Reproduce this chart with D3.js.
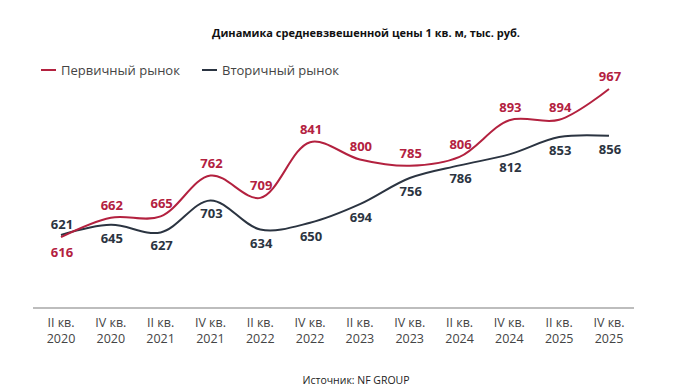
<!DOCTYPE html>
<html>
<head>
    <meta charset="utf-8">
    <title>Динамика средневзвешенной цены</title>
    <script src="https://d3js.org/d3.v7.min.js"></script>
    <style>
        body {
            margin: 0;
            padding: 0;
            background-color: #ffffff;
            font-family: "Open Sans", sans-serif;
        }
        .title {
            font-family: "Open Sans", sans-serif;
            font-weight: bold;
            font-size: 11px;
            fill: #111;
        }
        .legend text {
            font-size: 13px;
            fill: #444;
        }
        .tick-label {
            font-size: 12.5px;
            fill: #444;
        }
        .value {
            font-size: 13px;
            font-weight: bold;
        }
    </style>
</head>
<body>
    <div id="chart"></div>

    <script>
        // Data
        const quarters = ["II кв.", "IV кв.", "II кв.", "IV кв.", "II кв.", "IV кв.",
                          "II кв.", "IV кв.", "II кв.", "IV кв.", "II кв.", "IV кв."];
        const years = ["2020", "2020", "2021", "2021", "2022", "2022",
                       "2023", "2023", "2024", "2024", "2025", "2025"];
        const primary = [616, 662, 665, 762, 709, 841, 800, 785, 806, 893, 894, 967];
        const secondary = [621, 645, 627, 703, 634, 650, 694, 756, 786, 812, 853, 856];

        const red = "#b3213f";
        const dark = "#2b3441";

        const width = 673, height = 392;

        const svg = d3.select("#chart")
            .append("svg")
            .attr("width", width)
            .attr("height", height);

        const idx = d3.range(quarters.length);

        const x = d3.scalePoint()
            .domain(idx)
            .range([61, 609]);

        const y = d3.scaleLinear()
            .domain([448, 967])
            .range([308, 89]);

        // Title
        svg.append("text")
            .attr("class", "title")
            .attr("x", 366)
            .attr("y", 37)
            .attr("text-anchor", "middle")
            .attr("textLength", 308)
            .attr("lengthAdjust", "spacingAndGlyphs")
            .text("Динамика средневзвешенной цены 1 кв. м, тыс. руб.");

        // Legend
        const legend = svg.append("g").attr("class", "legend");
        const items = [
            { name: "Первичный рынок", color: red, x: 41 },
            { name: "Вторичный рынок", color: dark, x: 202 }
        ];
        items.forEach(it => {
            legend.append("line")
                .attr("x1", it.x).attr("x2", it.x + 15)
                .attr("y1", 70).attr("y2", 70)
                .attr("stroke", it.color)
                .attr("stroke-width", 2);
            legend.append("text")
                .attr("x", it.x + 20)
                .attr("y", 74.5)
                .text(it.name);
        });

        // Baseline
        svg.append("line")
            .attr("x1", 33).attr("x2", 634)
            .attr("y1", 308).attr("y2", 308)
            .attr("stroke", "#bdbdbd")
            .attr("stroke-width", 2);

        // X labels
        const xl = svg.append("g");
        xl.selectAll(".q")
            .data(idx)
            .join("text")
            .attr("class", "tick-label")
            .attr("x", d => x(d))
            .attr("y", 327)
            .attr("text-anchor", "middle")
            .text(d => quarters[d]);
        xl.selectAll(".yr")
            .data(idx)
            .join("text")
            .attr("class", "tick-label")
            .attr("x", d => x(d))
            .attr("y", 343)
            .attr("text-anchor", "middle")
            .text(d => years[d]);

        // Lines
        const line = d3.line()
            .x((d, i) => x(i))
            .y(d => y(d))
            .curve(d3.curveCatmullRom.alpha(0.5));

        svg.append("path")
            .datum(secondary)
            .attr("fill", "none")
            .attr("stroke", dark)
            .attr("stroke-width", 2)
            .attr("d", line);

        svg.append("path")
            .datum(primary)
            .attr("fill", "none")
            .attr("stroke", red)
            .attr("stroke-width", 2)
            .attr("d", line);

        // Value labels: primary above (first below), secondary below (first above)
        svg.selectAll(".vp")
            .data(primary)
            .join("text")
            .attr("class", "value")
            .attr("fill", red)
            .attr("text-anchor", "middle")
            .attr("x", (d, i) => x(i) + 1)
            .attr("y", (d, i) => i === 0 ? y(d) + 20 : y(d) - 8)
            .text(d => d);

        svg.selectAll(".vs")
            .data(secondary)
            .join("text")
            .attr("class", "value")
            .attr("fill", dark)
            .attr("text-anchor", "middle")
            .attr("x", (d, i) => x(i) + 1)
            .attr("y", (d, i) => i === 0 ? y(d) - 6 : y(d) + 18)
            .text(d => d);

        // Source
        svg.append("text")
            .attr("x", 356)
            .attr("y", 384)
            .attr("text-anchor", "middle")
            .style("font-size", "11px")
            .style("fill", "#222")
            .attr("textLength", 107)
            .attr("lengthAdjust", "spacingAndGlyphs")
            .text("Источник: NF GROUP");
    </script>
</body>
</html>
